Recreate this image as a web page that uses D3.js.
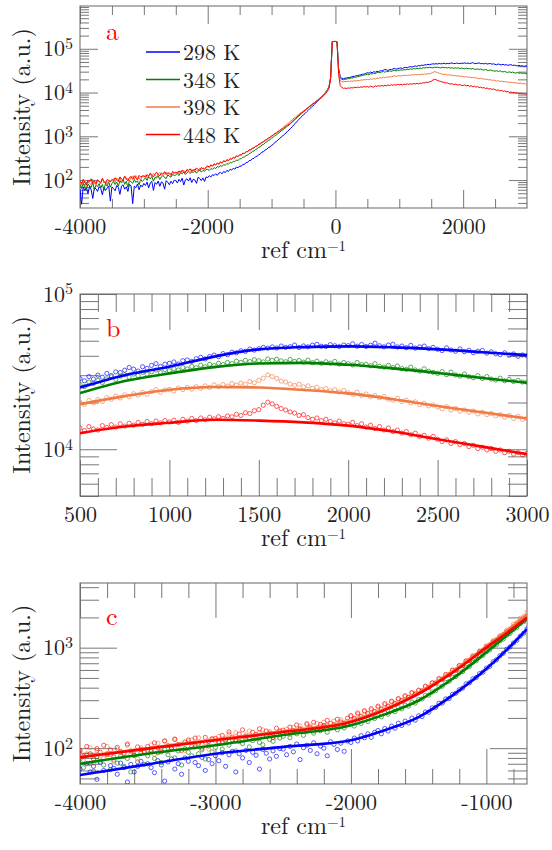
<!DOCTYPE html>
<html>
<head>
<meta charset="utf-8">
<script src="https://cdn.jsdelivr.net/npm/d3@7"></script>
<style>
  body { margin: 0; background: #fff; }
</style>
</head>
<body>
<svg id="chart" width="552" height="850"></svg>
<script>
// Raman shift sampling of the measured spectra (cm^-1), one value every 25
const shift = d3.range(-4000, 3001, 25);

// Series names and colours
const temps = ['298 K', '348 K', '398 K', '448 K'];
const colors = ['#0000ff', '#008000', '#f07b45', '#ff0000'];

// Measured intensities (a.u.), rows of 500 cm^-1 starting at -4000
const i298 = [
  62, 28, 70, 58, 66, 49, 72, 60, 38, 67, 63, 55, 71, 64, 46, 69, 58, 66, 74, 33,
  70, 64, 57, 75, 68, 47, 73, 78, 62, 70, 55, 80, 74, 29, 72, 67, 81, 60, 77, 70,
  84, 75, 90, 66, 86, 93, 58, 88, 80, 95, 72, 91, 85, 62, 97, 89, 78, 94, 83, 99,
  98, 86, 104, 92, 110, 77, 101, 107, 95, 113, 88, 105, 100, 84, 116, 109, 97, 112, 93, 118,
  114, 126, 118, 133, 127, 139, 128, 144, 150, 139, 157, 148, 166, 158, 177, 168, 186, 178, 199, 190,
  210, 206, 229, 228, 252, 254, 280, 281, 309, 312, 344, 352, 381, 396, 436, 447, 489, 505, 552, 570,
  625, 652, 724, 758, 830, 879, 966, 1018, 1112, 1182, 1302, 1390, 1535, 1650, 1848, 1990, 2215, 2390, 2640, 2840,
  3120, 3330, 3630, 3930, 4320, 4630, 5030, 5420, 5930, 6420, 7030, 7580, 8330, 9180, 10250, 11500, 13500, 22000, 145000, 147000,
  147000, 145000, 35000, 23000, 21000, 20700, 21300, 21500, 22100, 22000, 22900, 23000, 23600, 24200, 24300, 25200, 25400, 26300, 26400, 27300,
  28500, 27600, 29400, 28300, 30000, 29100, 30800, 29800, 31500, 31200, 32300, 33600, 32800, 31900, 34000, 33200, 34700, 35600, 34100, 35300,
  35800, 36500, 35400, 37200, 37600, 36800, 38300, 39100, 38200, 39600, 40400, 39500, 41300, 40600, 42200, 41800, 43100, 42700, 44200, 43500,
  44400, 45300, 44800, 45600, 44900, 46200, 45300, 45800, 46900, 45200, 46300, 45700, 46800, 47400, 46100, 45900, 47200, 46400, 45800, 46900,
  46500, 47800, 46100, 47300, 45900, 46800, 48200, 46400, 45700, 46900, 47500, 45600, 46200, 45100, 46700, 44800, 45600, 46200, 44500, 45300,
  44100, 43200, 45000, 43600, 42800, 44300, 42500, 43400, 41900, 42800, 43300, 41600, 42400, 41200, 40700, 41800, 40300, 41100, 39700, 40500,
  40000
];
const i348 = [
  78, 64, 85, 70, 59, 82, 74, 68, 88, 61, 76, 71, 83, 66, 79, 58, 85, 73, 90, 69,
  84, 93, 79, 90, 72, 97, 86, 101, 80, 94, 68, 99, 91, 84, 103, 88, 96, 78, 105, 92,
  102, 113, 98, 118, 107, 121, 94, 116, 111, 125, 103, 119, 128, 114, 108, 131, 122, 117, 137, 126,
  131, 142, 127, 148, 139, 153, 134, 147, 158, 141, 155, 149, 163, 144, 160, 171, 152, 166, 159, 174,
  175, 166, 183, 176, 192, 184, 203, 197, 212, 205, 226, 218, 238, 231, 253, 246, 268, 262, 287, 281,
  305, 308, 334, 337, 362, 372, 406, 414, 451, 462, 504, 516, 560, 578, 633, 652, 715, 740, 812, 838,
  910, 948, 1035, 1073, 1168, 1218, 1330, 1388, 1520, 1585, 1735, 1812, 1978, 2100, 2335, 2470, 2730, 2890, 3180, 3340,
  3640, 3860, 4200, 4450, 4840, 5130, 5570, 5880, 6350, 6780, 7360, 7880, 8650, 9380, 10350, 11650, 13600, 22000, 145000, 147000,
  147000, 145000, 34000, 21500, 20100, 19600, 20300, 20100, 21000, 20800, 21600, 21500, 22500, 22400, 23200, 23400, 24200, 24500, 25300, 25400,
  26200, 25300, 27100, 26600, 27800, 26900, 28400, 29300, 28200, 29600, 30200, 29100, 30500, 29800, 31300, 30400, 31600, 32400, 31200, 32600,
  32100, 33000, 32400, 33600, 32900, 34100, 33500, 34800, 34000, 35300, 34600, 35800, 35100, 36200, 35600, 36900, 36300, 37400, 36700, 37800,
  37200, 36500, 38100, 37400, 38000, 37100, 36600, 37900, 36800, 37300, 36400, 37500, 36100, 36900, 35800, 36600, 35900, 36800, 35400, 36200,
  35600, 34900, 36200, 35100, 35300, 34500, 35600, 34200, 33800, 34700, 33600, 34400, 33100, 32700, 33800, 32400, 31900, 33000, 31800, 31300,
  30800, 31600, 30200, 31400, 30100, 29600, 30500, 29300, 28900, 29800, 28600, 29400, 28300, 27900, 28700, 27600, 28200, 27300, 27800, 27100,
  27000
];
const i398 = [
  92, 76, 88, 101, 71, 95, 84, 79, 104, 87, 73, 98, 90, 82, 107, 86, 94, 78, 101, 93,
  96, 108, 87, 112, 99, 118, 92, 105, 124, 101, 110, 95, 116, 121, 104, 127, 109, 114, 98, 125,
  117, 131, 112, 126, 138, 121, 143, 127, 119, 135, 148, 130, 124, 141, 152, 133, 146, 139, 128, 150,
  142, 155, 138, 161, 149, 166, 152, 171, 158, 147, 176, 163, 181, 168, 159, 186, 174, 192, 178, 185,
  206, 194, 218, 209, 231, 219, 241, 230, 256, 243, 270, 259, 288, 274, 305, 296, 326, 318, 351, 343,
  372, 376, 408, 405, 442, 447, 485, 489, 534, 541, 591, 601, 657, 668, 732, 748, 818, 836, 916, 935,
  1040, 1068, 1172, 1198, 1318, 1352, 1492, 1541, 1705, 1772, 1958, 2035, 2258, 2350, 2610, 2720, 3010, 3120, 3420, 3550,
  3830, 4030, 4340, 4580, 4990, 5230, 5650, 5930, 6350, 6720, 7260, 7720, 8450, 9170, 10150, 11400, 13200, 21500, 145000, 147000,
  147000, 145000, 30000, 19000, 17900, 17500, 18000, 17700, 18200, 17900, 18400, 18100, 18700, 18400, 18900, 18700, 19400, 19200, 19800, 19600,
  20100, 19500, 20600, 20000, 20900, 20300, 21500, 21000, 22000, 21400, 22400, 21800, 22800, 22300, 23200, 22600, 23500, 24200, 23300, 24100,
  24300, 23700, 24800, 24200, 25000, 24400, 25300, 24700, 25600, 25000, 26000, 25300, 26100, 25500, 26500, 25900, 26700, 26200, 27300, 26800,
  27800, 28700, 30100, 29400, 28600, 27500, 27100, 26300, 25800, 26200, 25200, 25600, 24700, 25100, 24200, 24600, 23800, 24200, 23400, 23900,
  23100, 22600, 23300, 22200, 22700, 21800, 22200, 21500, 21900, 21000, 20700, 21300, 20300, 20700, 19900, 20200, 19400, 19800, 19000, 19300,
  18700, 18200, 18800, 17900, 18300, 17600, 17900, 17300, 17600, 16900, 17300, 16700, 17000, 16400, 16700, 16100, 16500, 15800, 16300, 15600,
  15800
];
const i448 = [
  95, 83, 104, 88, 78, 99, 91, 107, 86, 96, 82, 102, 93, 88, 110, 94, 85, 103, 97, 91,
  104, 96, 113, 101, 92, 118, 106, 99, 122, 109, 95, 115, 121, 104, 126, 112, 100, 128, 117, 123,
  125, 116, 134, 121, 145, 129, 118, 138, 152, 131, 126, 144, 137, 156, 133, 148, 141, 128, 158, 146,
  151, 143, 162, 149, 170, 156, 147, 175, 163, 181, 158, 172, 168, 189, 176, 165, 194, 182, 177, 199,
  211, 198, 224, 206, 236, 222, 247, 231, 262, 246, 278, 262, 293, 279, 312, 299, 333, 321, 358, 347,
  378, 370, 414, 401, 448, 443, 493, 486, 541, 538, 598, 596, 664, 662, 740, 742, 826, 830, 924, 930,
  1020, 1048, 1145, 1170, 1278, 1315, 1440, 1478, 1612, 1662, 1815, 1870, 2040, 2150, 2395, 2520, 2800, 2930, 3260, 3410,
  3730, 3960, 4290, 4540, 4940, 5180, 5550, 5830, 6250, 6570, 7060, 7470, 8060, 8680, 9650, 10800, 12500, 21000, 145000, 147000,
  147000, 145000, 26000, 14500, 13100, 12500, 12700, 12300, 12800, 12500, 13000, 12700, 13200, 12900, 13400, 13000, 13500, 13200, 13700, 13400,
  13700, 13200, 14000, 13500, 13300, 14200, 13800, 14400, 13900, 14600, 14100, 14700, 14300, 14900, 14500, 15100, 14600, 15200, 14800, 15300,
  15000, 15400, 14900, 15600, 15200, 15800, 15300, 15900, 15500, 16100, 15700, 16200, 15800, 16400, 16200, 16800, 16500, 17200, 17000, 17700,
  18000, 19200, 20100, 19600, 18900, 18300, 17900, 17400, 17100, 16500, 16700, 16000, 15600, 15900, 15300, 15600, 15100, 14800, 15200, 14600,
  14500, 14900, 14200, 14600, 13900, 14300, 13600, 14000, 13300, 13700, 13000, 13300, 12700, 13000, 12400, 12700, 12100, 12300, 11800, 12100,
  11600, 11200, 11500, 10900, 11200, 10700, 10900, 10400, 10600, 10100, 10300, 9900, 10100, 9700, 9900, 9500, 9700, 9300, 9500, 9200,
  9400
];

// Fitted curves, panel b (Stokes side)
const fitBShift = [500, 750, 1000, 1250, 1500, 1750, 2000, 2250, 2500, 2750, 3000];
const fitB298 = [25000, 30000, 34000, 39500, 44000, 45500, 46000, 45300, 44000, 42200, 40400];
const fitB348 = [23000, 27500, 30800, 33800, 35700, 36000, 35000, 33200, 31000, 28800, 26800];
const fitB398 = [19500, 22000, 24200, 25200, 25000, 24100, 22900, 21000, 19000, 17300, 15800];
const fitB448 = [12700, 14000, 14800, 15500, 15300, 14900, 14200, 13000, 11600, 10400, 9300];

// Fitted curves, panel c (anti-Stokes side)
const fitCShift = [-4000, -3500, -3000, -2500, -2000, -1750, -1500, -1250, -1000, -850, -700];
const fitC298 = [54, 69, 88, 103, 120, 151, 204, 335, 616, 950, 1530];
const fitC348 = [70, 88, 107, 135, 169, 217, 298, 490, 899, 1320, 1950];
const fitC398 = [82, 100, 122, 147, 186, 245, 355, 580, 1030, 1470, 2150];
const fitC448 = [81, 99, 120, 145, 182, 240, 348, 565, 1000, 1400, 2000];

// Tick values
const aXMajor = [-4000, -2000, 0, 2000];
const aXMinor = [-3500, -3000, -2500, -1500, -1000, -500, 500, 1000, 1500, 2500];
const bXMajor = [500, 1000, 1500, 2000, 2500, 3000];
const bXMinor = [600, 700, 800, 900, 1100, 1200, 1300, 1400, 1600, 1700, 1800, 1900,
                 2100, 2200, 2300, 2400, 2600, 2700, 2800, 2900];
const cXMajor = [-4000, -3000, -2000, -1000];
const cXMinor = [-3800, -3600, -3400, -3200, -2800, -2600, -2400, -2200,
                 -1800, -1600, -1400, -1200, -800];

const spectra = [i298, i348, i398, i448];
const fitsB = [fitB298, fitB348, fitB398, fitB448];
const fitsC = [fitC298, fitC348, fitC398, fitC448];

// Layout
const FONT = 'Latin Modern Roman';
const svg = d3.select('#chart');
const plotLeft = 80, plotRight = 527;
const frameColor = '#666', tickColor = '#777';

function isDecade(v) {
  const l = Math.log10(v);
  return Math.abs(l - Math.round(l)) < 1e-6;
}

// superscript power-of-ten labels
function decadeLabel(sel) {
  sel.each(function(d) {
    const t = d3.select(this);
    t.text('10');
    t.append('tspan').attr('dy', '-0.45em').attr('font-size', 16).text(Math.round(Math.log10(d)));
  });
}

function styleAxis(g) {
  g.select('.domain').remove();
  g.selectAll('line').attr('stroke', tickColor).attr('stroke-width', 1);
  g.attr('font-family', FONT).attr('font-size', 22);
  g.selectAll('text').attr('fill', '#222');
}

function drawPanel(p) {
  const x = d3.scaleLinear().domain(p.xDomain).range([plotLeft, plotRight]);
  const y = d3.scaleLog().domain(p.yDomain).range([p.bottom, p.top]);
  const g = svg.append('g');

  const yMajor = p.yMajor;
  const yMinor = y.ticks().filter(v => !isDecade(v));

  // bottom
  g.append('g').attr('transform', `translate(0,${p.bottom})`)
    .call(d3.axisBottom(x).tickValues(p.xMinor).tickSize(-p.xMin).tickFormat(''))
    .call(styleAxis);
  g.append('g').attr('transform', `translate(0,${p.bottom})`)
    .call(d3.axisBottom(x).tickValues(p.xMajor).tickSize(-p.xMaj).tickPadding(10).tickFormat(d => String(d)))
    .call(styleAxis);
  // top
  g.append('g').attr('transform', `translate(0,${p.top})`)
    .call(d3.axisTop(x).tickValues(p.xMinor).tickSize(-p.xMin).tickFormat(''))
    .call(styleAxis);
  g.append('g').attr('transform', `translate(0,${p.top})`)
    .call(d3.axisTop(x).tickValues(p.xMajor).tickSize(-p.xMaj).tickFormat(''))
    .call(styleAxis);
  // left
  g.append('g').attr('transform', `translate(${plotLeft},0)`)
    .call(d3.axisLeft(y).tickValues(yMinor).tickSize(-p.yMin).tickFormat(''))
    .call(styleAxis);
  const yl = g.append('g').attr('transform', `translate(${plotLeft},0)`)
    .call(d3.axisLeft(y).tickValues(yMajor).tickSize(-p.yMaj).tickPadding(7).tickFormat(''))
    .call(styleAxis);
  yl.selectAll('.tick text').call(decadeLabel);
  // right
  g.append('g').attr('transform', `translate(${plotRight},0)`)
    .call(d3.axisRight(y).tickValues(yMinor).tickSize(-p.yMin).tickFormat(''))
    .call(styleAxis);
  g.append('g').attr('transform', `translate(${plotRight},0)`)
    .call(d3.axisRight(y).tickValues(yMajor).tickSize(-p.yMaj).tickFormat(''))
    .call(styleAxis);

  // frame
  g.append('rect')
    .attr('x', plotLeft).attr('y', p.top)
    .attr('width', plotRight - plotLeft).attr('height', p.bottom - p.top)
    .attr('fill', 'none').attr('stroke', frameColor).attr('stroke-width', 1);

  // clip
  const clipId = 'clip-' + p.name;
  svg.append('clipPath').attr('id', clipId).append('rect')
    .attr('x', plotLeft).attr('y', p.top)
    .attr('width', plotRight - plotLeft).attr('height', p.bottom - p.top);
  const plot = g.append('g').attr('clip-path', `url(#${clipId})`);

  if (p.mode === 'line') {
    const line = d3.line().x(d => x(d[0])).y(d => y(d[1]));
    spectra.forEach((s, k) => {
      plot.append('path')
        .datum(shift.map((v, i) => [v, s[i]]))
        .attr('d', line)
        .attr('fill', 'none')
        .attr('stroke', colors[k])
        .attr('stroke-width', 1)
        .attr('stroke-linejoin', 'round');
    });
  } else {
    const [x0, x1] = p.xDomain;
    const [y0, y1] = p.yDomain;
    spectra.forEach((s, k) => {
      const pts = shift.map((v, i) => [v, s[i]])
        .filter(d => d[0] >= x0 && d[0] <= x1 && d[1] >= y0 && d[1] <= y1);
      plot.append('g').selectAll('circle')
        .data(pts).enter().append('circle')
        .attr('cx', d => x(d[0]))
        .attr('cy', d => y(d[1]))
        .attr('r', 2.1)
        .attr('fill', 'none')
        .attr('stroke', colors[k])
        .attr('stroke-width', 0.8)
        .attr('opacity', 0.8);
    });
    const fitLine = d3.line().x(d => x(d[0])).y(d => y(d[1])).curve(d3.curveMonotoneX);
    p.fitOrder.forEach(k => {
      plot.append('path')
        .datum(p.fitX.map((v, i) => [v, p.fits[k][i]]))
        .attr('d', fitLine)
        .attr('fill', 'none')
        .attr('stroke', colors[k])
        .attr('stroke-width', 2.6);
    });
  }

  // panel letter
  g.append('text')
    .attr('x', 106).attr('y', p.letterY)
    .attr('font-family', FONT)
    .attr('font-size', 26)
    .attr('fill', '#ff0000')
    .text(p.name);

  // axis title with superscript
  const xt = g.append('text')
    .attr('x', (plotLeft + plotRight) / 2).attr('y', p.bottom + 50)
    .attr('text-anchor', 'middle')
    .attr('font-family', FONT)
    .attr('font-size', 24)
    .attr('fill', '#222')
    .text('ref cm');
  xt.append('tspan').attr('dy', -7).attr('font-size', 15).text('\u22121');

  g.append('text')
    .attr('transform', `translate(30,${(p.top + p.bottom) / 2}) rotate(-90)`)
    .attr('text-anchor', 'middle')
    .attr('font-family', FONT)
    .attr('font-size', 24)
    .attr('fill', '#222')
    .text('Intensity (a.u.)');

  return {x, y, g};
}

const pa = drawPanel({
  name: 'a', mode: 'line', top: 6, bottom: 208,
  xDomain: [-4000, 3000], yDomain: [23, 9.5e5],
  xMajor: aXMajor, xMinor: aXMinor, yMajor: [1e2, 1e3, 1e4, 1e5],
  xMaj: 18, xMin: 9, yMaj: 18, yMin: 9, letterY: 40
});

drawPanel({
  name: 'b', mode: 'points', top: 294, bottom: 496,
  xDomain: [500, 3000], yDomain: [5000, 1e5],
  xMajor: bXMajor, xMinor: bXMinor, yMajor: [1e4, 1e5],
  xMaj: 36, xMin: 18, yMaj: 37, yMin: 19, letterY: 337,
  fitX: fitBShift, fits: fitsB, fitOrder: [0, 1, 2, 3]
});

drawPanel({
  name: 'c', mode: 'points', top: 583, bottom: 784,
  xDomain: [-4000, -700], yDomain: [44, 4400],
  xMajor: cXMajor, xMinor: cXMinor, yMajor: [1e2, 1e3],
  xMaj: 35, xMin: 15, yMaj: 37, yMin: 19, letterY: 625,
  fitX: fitCShift, fits: fitsC, fitOrder: [2, 0, 1, 3]
});

// legend in panel a
const legend = pa.g.append('g');
temps.forEach((t, k) => {
  const ly = 52 + k * 27.5;
  legend.append('line')
    .attr('x1', 146).attr('x2', 180).attr('y1', ly).attr('y2', ly)
    .attr('stroke', colors[k]).attr('stroke-width', 1.3);
  legend.append('text')
    .attr('x', 183).attr('y', ly + 8)
    .attr('font-family', FONT)
    .attr('font-size', 22)
    .attr('fill', '#222')
    .text(t);
});

// make sure every text uses the single serif family
svg.selectAll('text').attr('font-family', FONT);
</script>
</body>
</html>
